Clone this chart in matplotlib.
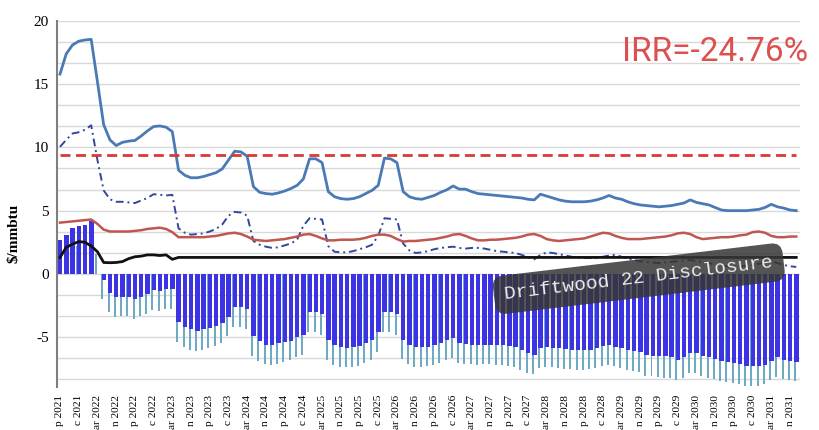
import numpy as np
import matplotlib
matplotlib.use("Agg")
import matplotlib.pyplot as plt

# monthly points, Sep 2021 .. Jul 2031 (index 0 = Sep 2021)
months = np.arange(119)

# quarterly labels, only the part left visible by the cropped original
tick_labels = ["p 2021", "c 2021",
               "ar 2022", "n 2022", "p 2022", "c 2022",
               "ar 2023", "n 2023", "p 2023", "c 2023",
               "ar 2024", "n 2024", "p 2024", "c 2024",
               "ar 2025", "n 2025", "p 2025", "c 2025",
               "ar 2026", "n 2026", "p 2026", "c 2026",
               "ar 2027", "n 2027", "p 2027", "c 2027",
               "ar 2028", "n 2028", "p 2028", "c 2028",
               "ar 2029", "n 2029", "p 2029", "c 2029",
               "ar 2030", "n 2030", "p 2030", "c 2030",
               "ar 2031", "n 2031"]
tick_pos = months[::3]

# solid steel-blue line
price_high = [15.8, 17.4, 18.1, 18.4, 18.5, 18.55, 15.2, 11.8, 10.6, 10.15,
              10.4, 10.5, 10.55, 10.9, 11.3, 11.65, 11.7, 11.6, 11.25, 8.2,
              7.8, 7.6, 7.6, 7.7, 7.85, 8.0, 8.3, 9.0, 9.7, 9.65,
              9.3, 6.9, 6.45, 6.35, 6.3, 6.4, 6.55, 6.75, 7.0, 7.5,
              9.1, 9.1, 8.8, 6.5, 6.1, 5.95, 5.9, 5.95, 6.1, 6.35,
              6.6, 7.0, 9.15, 9.1, 8.8, 6.5, 6.1, 5.95, 5.9, 6.05,
              6.2, 6.45, 6.65, 6.95, 6.7, 6.7, 6.5, 6.35, 6.3, 6.25,
              6.2, 6.15, 6.1, 6.05, 6.0, 5.9, 5.85, 6.3, 6.15, 6.0,
              5.85, 5.75, 5.7, 5.7, 5.7, 5.75, 5.85, 6.0, 6.2, 6.0,
              5.9, 5.7, 5.55, 5.45, 5.4, 5.35, 5.3, 5.35, 5.4, 5.5,
              5.6, 5.85, 5.65, 5.55, 5.45, 5.25, 5.05, 5.0, 5.0, 5.0,
              5.0, 5.05, 5.1, 5.25, 5.5, 5.3, 5.2, 5.05, 5.0]

# navy dash-dot line
price_mid = [10.05, 10.6, 11.1, 11.2, 11.4, 11.75, 9.0, 6.6, 5.9, 5.7,
             5.7, 5.65, 5.6, 5.8, 6.0, 6.3, 6.25, 6.2, 6.25, 3.6,
             3.25, 3.1, 3.15, 3.2, 3.35, 3.55, 3.9, 4.6, 4.9, 4.85,
             4.6, 2.6, 2.3, 2.15, 2.05, 2.1, 2.25, 2.4, 2.7, 3.8,
             4.4, 4.35, 4.3, 2.2, 1.75, 1.7, 1.7, 1.8, 1.95, 2.1,
             2.3, 3.0, 4.4, 4.35, 4.3, 2.4, 1.85, 1.65, 1.7, 1.8,
             1.95, 2.05, 2.1, 2.15, 2.05, 2.0, 2.05, 2.05, 2.0, 1.9,
             1.8, 1.75, 1.7, 1.65, 1.5, 1.3, 1.15, 1.5, 1.7, 1.65,
             1.55, 1.45, 1.35, 1.3, 1.25, 1.25, 1.25, 1.35, 1.45, 1.5,
             1.35, 1.2, 1.1, 1.0, 0.95, 0.9, 0.85, 0.9, 0.95, 1.0,
             1.05, 1.1, 1.0, 0.95, 0.85, 0.75, 0.65, 0.6, 0.6, 0.6,
             0.65, 0.7, 0.8, 0.9, 1.0, 0.85, 0.7, 0.6, 0.55]

# brown-red solid line
price_low = [4.05, 4.1, 4.15, 4.2, 4.25, 4.3, 3.95, 3.5, 3.35, 3.35,
             3.35, 3.35, 3.4, 3.45, 3.55, 3.6, 3.65, 3.55, 3.3, 2.9,
             2.9, 2.9, 2.9, 2.9, 2.95, 3.0, 3.1, 3.2, 3.25, 3.15,
             2.95, 2.7, 2.65, 2.6, 2.65, 2.7, 2.75, 2.85, 2.95, 3.1,
             3.15, 3.0, 2.8, 2.65, 2.65, 2.7, 2.7, 2.7, 2.75, 2.85,
             3.0, 3.1, 3.1, 3.0, 2.75, 2.55, 2.6, 2.6, 2.65, 2.7,
             2.75, 2.85, 2.95, 3.1, 3.15, 3.0, 2.8, 2.65, 2.65, 2.7,
             2.7, 2.75, 2.8, 2.85, 2.95, 3.1, 3.15, 3.0, 2.75, 2.65,
             2.6, 2.65, 2.7, 2.75, 2.8, 2.95, 3.1, 3.25, 3.2, 3.0,
             2.85, 2.75, 2.75, 2.75, 2.8, 2.85, 2.9, 2.95, 3.05, 3.2,
             3.25, 3.15, 2.9, 2.75, 2.8, 2.85, 2.9, 2.9, 2.95, 3.05,
             3.1, 3.3, 3.35, 3.25, 3.0, 2.9, 2.9, 2.95, 2.95]

# black line
fee = [1.3, 2.1, 2.35, 2.55, 2.5, 2.2, 1.75, 0.9, 0.88, 0.9,
       0.97, 1.2, 1.35, 1.4, 1.5, 1.5, 1.45, 1.5, 1.15, 1.3,
       1.3, 1.3, 1.3, 1.3, 1.3, 1.3, 1.3, 1.3, 1.3, 1.3,
       1.3, 1.3, 1.3, 1.3, 1.3, 1.3, 1.3, 1.3, 1.3, 1.3,
       1.3, 1.3, 1.3, 1.3, 1.3, 1.3, 1.3, 1.3, 1.3, 1.3,
       1.3, 1.3, 1.3, 1.3, 1.3, 1.3, 1.3, 1.3, 1.3, 1.3,
       1.3, 1.3, 1.3, 1.3, 1.3, 1.3, 1.3, 1.3, 1.3, 1.3,
       1.3, 1.3, 1.3, 1.3, 1.3, 1.3, 1.3, 1.3, 1.3, 1.3,
       1.3, 1.3, 1.3, 1.3, 1.3, 1.3, 1.3, 1.3, 1.3, 1.3,
       1.3, 1.3, 1.3, 1.3, 1.3, 1.3, 1.3, 1.3, 1.3, 1.3,
       1.3, 1.3, 1.3, 1.3, 1.3, 1.3, 1.3, 1.3, 1.3, 1.3,
       1.3, 1.3, 1.3, 1.3, 1.3, 1.3, 1.3, 1.3, 1.3]

# dark blue bars
margin = [2.7, 3.1, 3.65, 3.8, 3.9, 4.2, 0.0, -0.45, -1.5, -1.85,
          -1.8, -1.8, -2.0, -1.8, -1.6, -1.3, -1.35, -1.2, -1.2, -3.8,
          -4.2, -4.4, -4.5, -4.4, -4.3, -4.15, -3.9, -3.4, -2.6, -2.6,
          -2.8, -4.95, -5.3, -5.6, -5.6, -5.5, -5.4, -5.3, -5.0, -4.8,
          -3.0, -3.0, -3.2, -5.2, -5.6, -5.8, -5.85, -5.8, -5.7, -5.5,
          -5.2, -4.6, -3.0, -3.0, -3.2, -5.2, -5.6, -5.8, -5.8, -5.75,
          -5.65, -5.5, -5.2, -5.1, -5.45, -5.55, -5.6, -5.65, -5.6, -5.6,
          -5.6, -5.65, -5.7, -5.8, -6.0, -6.3, -6.4, -5.9, -5.8, -5.85,
          -5.9, -5.95, -6.0, -6.0, -6.05, -6.0, -5.9, -5.7, -5.6, -5.75,
          -5.9, -6.0, -6.1, -6.15, -6.45, -6.5, -6.5, -6.5, -6.6, -6.8,
          -6.6, -6.3, -6.3, -6.5, -6.6, -6.75, -6.9, -7.0, -7.05, -7.1,
          -7.3, -7.3, -7.3, -7.2, -6.9, -6.6, -6.8, -6.9, -6.95]

# light teal bars
margin_low = [1.1, 1.5, 2.05, 2.2, 2.3, 2.6, 1.6, -2.0, -3.0, -3.45,
              -3.35, -3.35, -3.55, -3.35, -3.15, -2.85, -2.9, -2.75, -2.75, -5.4,
              -5.8, -6.0, -6.1, -6.0, -5.85, -5.7, -5.45, -4.95, -4.2, -4.2,
              -4.4, -6.5, -6.9, -7.15, -7.2, -7.1, -7.0, -6.85, -6.6, -6.4,
              -4.6, -4.6, -4.8, -6.8, -7.2, -7.35, -7.4, -7.35, -7.25, -7.05,
              -6.8, -6.2, -4.6, -4.6, -4.8, -6.7, -7.15, -7.35, -7.4, -7.3,
              -7.2, -7.05, -6.8, -6.65, -7.05, -7.1, -7.15, -7.2, -7.15, -7.15,
              -7.2, -7.2, -7.3, -7.4, -7.6, -7.85, -7.95, -7.45, -7.35, -7.4,
              -7.45, -7.5, -7.55, -7.6, -7.6, -7.55, -7.45, -7.3, -7.2, -7.3,
              -7.45, -7.6, -7.7, -7.8, -8.05, -8.1, -8.15, -8.2, -8.25, -8.4,
              -8.2, -7.85, -7.85, -8.1, -8.2, -8.35, -8.45, -8.55, -8.65, -8.7,
              -8.85, -8.85, -8.85, -8.75, -8.4, -8.15, -8.3, -8.4, -8.5]

ref_level = 9.4
irr_text = "IRR=-24.76%"
stamp_text = "Driftwood 22 Disclosure"

fig = plt.figure(figsize=(8.2, 4.3), dpi=100)
ax = fig.add_axes([57 / 820, 43 / 430, 743 / 820, 366 / 430])

ax.bar(months - 0.2, margin_low, width=0.32, color="#6eaac4", linewidth=0, zorder=1)
ax.bar(months + 0.02, margin, width=0.7, color="#3b33e4", linewidth=0, zorder=1.5)

ax.plot(months, price_high, color="#4a7ab5", lw=2.0, zorder=3)
ax.plot(months, price_mid, color="#34469a", lw=1.4, dashes=(4, 2, 1, 2), zorder=3)
ax.plot(months, price_low, color="#bf5650", lw=1.8, zorder=3)
ax.plot(months, fee, color="#111111", lw=2.0, zorder=3)
ax.hlines(ref_level, months[0], months[-1], color="#d93a36", lw=2.0,
          linestyles=(0, (3.6, 2.0)), zorder=3)

ax.set_xlim(-0.48, 118.6)
ax.set_ylim(-8.95, 20)

ax.set_yticks([-5, 0, 5, 10, 15, 20])
ax.set_yticks(np.arange(-5, 13) * 5 / 3, minor=True)
ax.set_yticklabels(["-5", "0", "5", "10", "15", "20"], fontfamily="Liberation Serif", fontsize=11)
ax.grid(axis="y", which="both", color="#d9d9d9", lw=1)
ax.set_axisbelow(True)
ax.tick_params(axis="y", which="both", length=0, pad=6)

ax.set_xticks(tick_pos)
ax.set_xticklabels(tick_labels, rotation=90, fontfamily="Liberation Serif", fontsize=8.2)
ax.tick_params(axis="x", length=0, pad=5.5)

for s in ["top", "right", "bottom"]:
    ax.spines[s].set_visible(False)
ax.spines["left"].set_color("#7f7f7f")
ax.spines["left"].set_linewidth(1.5)

ax.set_ylabel("$/mmbtu", fontfamily="Liberation Serif", fontweight="bold", fontsize=11)
ax.yaxis.set_label_coords(-0.049, 0.42)

fig.text(808 / 820, 1 - 61 / 430, irr_text, ha="right", va="baseline",
         fontfamily="Roboto", fontsize=24, color="#dc5050")

fig.text(0.779, 0.352, stamp_text, rotation=6.8, rotation_mode="anchor",
         ha="center", va="center", fontfamily="Liberation Mono", fontsize=14,
         color="#ececec", zorder=10,
         bbox=dict(boxstyle="round,pad=0.55", fc="#363636", ec="none", alpha=0.85))

fig.savefig("out.png", dpi=100)
